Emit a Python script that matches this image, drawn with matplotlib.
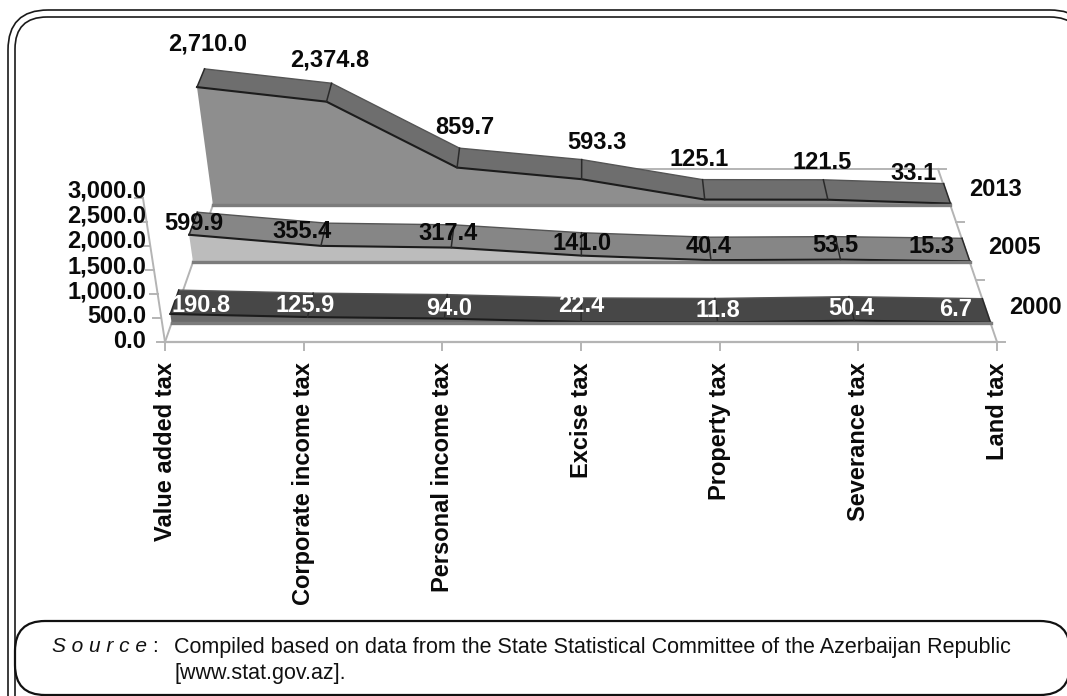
import matplotlib
matplotlib.use("Agg")
import matplotlib.pyplot as plt
from matplotlib.patches import FancyBboxPatch, Polygon

plt.rcParams["font.family"] = ["Liberation Sans", "DejaVu Sans"]

# Tax revenue by type, one row per year.
categories = [
    "Value added tax",
    "Corporate income tax",
    "Personal income tax",
    "Excise tax",
    "Property tax",
    "Severance tax",
    "Land tax",
]
years = ["2013", "2005", "2000"]
values_2013 = [2710.0, 2374.8, 859.7, 593.3, 125.1, 121.5, 33.1]
values_2005 = [599.9, 355.4, 317.4, 141.0, 40.4, 53.5, 15.3]
values_2000 = [190.8, 125.9, 94.0, 22.4, 11.8, 50.4, 6.7]
y_ticks = [0, 500, 1000, 1500, 2000, 2500, 3000]

# Perspective of the 3D box, all in figure pixels.
FLOOR_FRONT = 342
FLOOR_BACK = 169
LEFT_FRONT, LEFT_SLOPE = 165, 0.35
RIGHT_FRONT, RIGHT_SLOPE = 997, 0.341
CENTER_X = 581
LEAN = 0.000368
LABEL_SIZE = 17


def project(i, value, depth):
    # depth is the row on screen where the point sits on the floor
    back = FLOOR_FRONT - depth
    xl = LEFT_FRONT + LEFT_SLOPE * back
    xr = RIGHT_FRONT - RIGHT_SLOPE * back
    x = xl + i / 6 * (xr - xl)
    lift = value * (0.048 - back * 0.0000328)
    return x + (x - CENTER_X) * LEAN * lift, depth - lift


def fmt(v):
    return f"{v:,.1f}"


fig = plt.figure(figsize=(10.67, 6.96), dpi=100)
ax = fig.add_axes([0, 0, 1, 1])
ax.set_xlim(0, 1067)
ax.set_ylim(696, 0)
ax.axis("off")

# Double rounded frame and the source box
for left, top, right, rad in [(8, 10, 1090, 40), (15, 17, 1082, 32)]:
    ax.add_patch(FancyBboxPatch((left + rad, top + rad), right - left - 2 * rad, 780 - top - 2 * rad,
                                boxstyle=f"round,pad={rad},rounding_size={rad}",
                                fc="none", ec="#1a1a1a", lw=1.2, zorder=1))
ax.add_patch(FancyBboxPatch((45, 651), 995, 14, boxstyle="round,pad=30,rounding_size=30",
                            fc="white", ec="#111111", lw=1.6, zorder=2))

# Floor edges, back wall line and ticks
axis_color = "#b4b4b4"
ax.plot(*zip(project(0, 0, FLOOR_FRONT), project(6, 0, FLOOR_FRONT)), c=axis_color, lw=1.6, zorder=3)
ax.plot(*zip(project(0, 0, FLOOR_FRONT), project(0, 0, FLOOR_BACK)), c=axis_color, lw=1.4, zorder=3)
ax.plot(*zip(project(6, 0, FLOOR_FRONT), project(6, 0, FLOOR_BACK)), c=axis_color, lw=1.4, zorder=3)
ax.plot(*zip(project(0, 0, FLOOR_BACK), project(6, 0, FLOOR_BACK)), c=axis_color, lw=1.4, zorder=3)
ax.plot(*zip(project(0, 0, FLOOR_FRONT), project(0, 3000, FLOOR_FRONT)), c=axis_color, lw=1.4, zorder=3)
for i in range(7):
    x, y = project(i, 0, FLOOR_FRONT)
    ax.plot([x, x], [y, y + 8], c=axis_color, lw=1.4, zorder=3)
    ax.text(x, 362, categories[i], rotation=90, ha="center", va="top",
            fontsize=LABEL_SIZE, fontweight="bold", color="#0a0a0a", zorder=8)
for v in y_ticks:
    x, y = project(0, v, FLOOR_FRONT)
    ax.plot([x - 8, x], [y, y], c=axis_color, lw=1.4, zorder=3)
    ax.text(146, FLOOR_FRONT - v * 0.0503, fmt(v), ha="right", va="center",
            fontsize=LABEL_SIZE, fontweight="bold", color="#0a0a0a", zorder=8)
for depth in [FLOOR_BACK, 222, 280, FLOOR_FRONT]:
    x, y = project(6, 0, depth)
    ax.plot([x, x + 8], [y, y], c=axis_color, lw=1.4, zorder=3)

# Draw back to front: values, floor rows, fills, label colours and nudges
rows = [
    (values_2013, 205, 185, "#8e8e8e", "#6e6e6e", "#0a0a0a",
     [(11, -43), (3, -42), (8, -40), (15, -37), (-6, -40), (-6, -37), (-37, -30)]),
    (values_2005, 262, 239, "#bcbcbc", "#868686", "#0a0a0a",
     [(5, -11), (-19, -14), (-3, -14), (1, -12), (-2, -14), (-5, -14), (-38, -15)]),
    (values_2000, 323, 299, "#6a6a6a", "#474747", "white",
     [(31, -8), (-2, -12), (5, -10), (0, -16), (0, -12), (-3, -12), (-35, -13)]),
]
for n, (vals, front, back, face, top, text_c, nudges) in enumerate(rows):
    z = 4 + n * 0.1
    fronts = [project(i, v, front) for i, v in enumerate(vals)]
    backs = [project(i, v, back) for i, v in enumerate(vals)]
    base = [project(0, 0, front), project(6, 0, front)]
    ax.add_patch(Polygon(fronts + base[::-1], closed=True, fc=face, ec="none", zorder=z))
    ax.add_patch(Polygon(fronts + backs[::-1], closed=True, fc=top, ec="none", zorder=z))
    ax.plot(*zip(*backs), c="#555555", lw=1.0, zorder=z)
    ax.plot(*zip(*fronts), c="#1c1c1c", lw=1.5, zorder=z)
    for f, b in zip(fronts, backs):
        ax.plot([f[0], b[0]], [f[1], b[1]], c="#2a2a2a", lw=1.1, zorder=z)
    ax.plot(*zip(*base), c="#7c7c7c", lw=2.4, zorder=z)
    for (x, y), (dx, dy), v in zip(fronts, nudges, vals):
        ax.text(x + dx, y + dy, fmt(v), ha="center", va="center", fontsize=LABEL_SIZE,
                fontweight="bold", color=text_c, zorder=7)
    ax.text(base[1][0] + 45, front - 15, years[n], ha="center", va="center",
            fontsize=LABEL_SIZE, fontweight="bold", color="#0a0a0a", zorder=8)

# Source note
ax.text(52, 647, "S o u r c e", style="italic", fontsize=15, va="center", color="#111111", zorder=8)
ax.text(152, 647, ":", fontsize=15, va="center", color="#111111", zorder=8)
ax.text(174, 647, "Compiled based on data from the State Statistical Committee of the Azerbaijan Republic",
        fontsize=15.5, va="center", color="#111111", zorder=8)
ax.text(174, 673, "[www.stat.gov.az].", fontsize=15.5, va="center", color="#111111", zorder=8)

fig.savefig("out.png", dpi=100)
